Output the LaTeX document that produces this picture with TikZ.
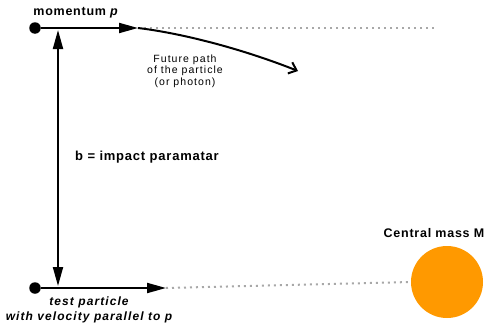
\documentclass[tikz,border=0pt]{standalone}
\usepackage{fontspec}
\setmainfont{Liberation Sans}
\newfontfamily\lblfont[LetterSpace=6]{Liberation Sans}
\newfontfamily\smallfont[LetterSpace=10]{Liberation Sans}
\newfontfamily\tpfont[LetterSpace=9]{Liberation Sans}
\usetikzlibrary{arrows.meta}
\definecolor{massorange}{HTML}{FF9900}
\definecolor{dotgray}{HTML}{A8A8A8}
\tikzset{
  vec/.style={line width=2pt,-{Triangle[length=19pt,width=10pt]}},
  dvec/.style={line width=2pt,{Triangle[length=19pt,width=10pt]}-{Triangle[length=19pt,width=10pt]}},
  guide/.style={dotgray,line width=2pt,dash pattern=on 2pt off 4pt},
  pdot/.style={circle,fill=black,inner sep=0pt,minimum size=11.5pt},
  lbl/.style={font=\lblfont\bfseries\fontsize{12.5}{14}\selectfont,inner sep=0pt},
  small/.style={font=\smallfont\fontsize{10.5}{11.5}\selectfont,align=center,inner sep=0pt}
}
\begin{document}
\begin{tikzpicture}[x=1pt,y=-1pt]
\useasboundingbox (0,0) rectangle (490,332);
\node[pdot] (p1) at (35,28) {};
\node[pdot] (p2) at (35,288) {};
\coordinate (a1) at (58,28);
\coordinate (a2) at (58,288);
\coordinate (v1) at (58,30);
\coordinate (v2) at (58,286);
\coordinate (t1) at (138,28);
\coordinate (t2) at (166,288);
\coordinate (e1) at (436,28);
\coordinate (f) at (298,71);
\node[circle,fill=massorange,minimum width=72pt,minimum height=69pt,inner sep=0pt] (M) at (447,282) {};
\draw[guide] (t1) -- (e1);
\draw[guide] (t2) -- (M.west);
\draw[line width=2pt] (p1) -- (a1);
\draw[vec] (a1) -- (t1);
\draw[line width=2pt] (p2) -- (a2);
\draw[vec] (a2) -- (t2);
\draw[dvec] (v1) -- (v2);
\draw[line width=2pt,-{Straight Barb[length=7pt,width=12pt]}] (t1) .. controls (180,33) and (240,48) .. (f);
\node[lbl,anchor=base] (mom) at (76,16) {momentum \textit{p}};
\node[small] (fut) at (185,71) {Future path\\of the particle\\(or photon)};
\node[lbl,anchor=west,font=\lblfont\bfseries\fontsize{13}{15}\selectfont] (b) at (75,157) {b = impact paramatar};
\node[lbl] (cm) at (434,233) {Central mass M};
\node[lbl,font=\tpfont\bfseries\itshape\fontsize{12}{15}\selectfont,align=center] (tp) at (89,310) {test particle\\with velocity parallel to p};
\end{tikzpicture}
\end{document}
